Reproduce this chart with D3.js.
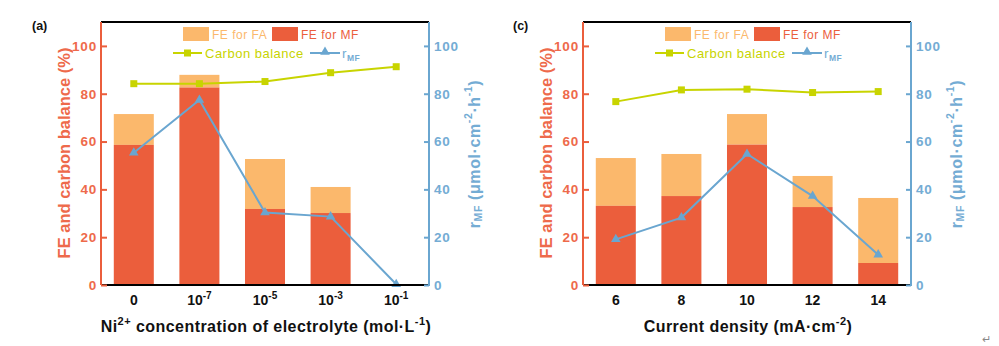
<!DOCTYPE html>
<html><head><meta charset="utf-8">
<script src="https://cdn.jsdelivr.net/npm/d3@7"></script>
<style>
body{margin:0;background:#fff;}
svg{display:block;font-family:Arial,"Liberation Sans",sans-serif;}
</style></head><body>
<div id="chart"></div>
<script>
// ---- data ----
const catsA = ["0","10|-7","10|-5","10|-3","10|-1"];
const feMF_A = [58.6, 82.6, 31.8, 30.1, 0];
const feTotal_A = [71.5, 87.9, 52.7, 41.0, 0];
const carbon_A = [84.2, 84.2, 85.1, 88.8, 91.3];
const rMF_A = [55.3, 77.4, 30.3, 28.6, 0.3];

const catsC = ["6","8","10","12","14"];
const feMF_C = [33.1, 37.2, 58.7, 32.6, 9.2];
const feTotal_C = [53.1, 54.8, 71.5, 45.6, 36.4];
const carbon_C = [76.7, 81.6, 81.9, 80.5, 80.9];
const rMF_C = [19.1, 28.2, 54.8, 37.2, 12.7];

const yTicks = [0, 20, 40, 60, 80, 100];

const C_FA = "#FBB86C", C_MF = "#EB5E3C", C_CB = "#C8D400", C_R = "#6AA6D0";
const C_LT = "#EE6A4B", C_RT = "#74ACD4";

const svg = d3.select("#chart").append("svg").attr("width", 999).attr("height", 346);

function supText(sel, str, baseSize) {
  const parts = str.split("|");
  sel.append("tspan").text(parts[0]);
  if (parts[1]) sel.append("tspan").attr("dy", -6).attr("font-size", baseSize * 0.72).text(parts[1]);
}

function panel(opts) {
  const {x0, x1, cats, mf, tot, cb, r, label, xTitle} = opts;
  const top = 22, bot = 285;
  const g = svg.append("g");
  const x = d3.scaleBand().domain(cats).range([x0, x1]).paddingInner(0.39).paddingOuter(0.195);
  const y = d3.scaleLinear().domain([0, 110]).range([bot, top]);
  const yr = d3.scaleLinear().domain([0, 110]).range([bot, top]);
  const cx = d => x(d) + x.bandwidth() / 2;

  // bars
  g.selectAll(".fa").data(cats).join("rect")
    .attr("x", d => x(d)).attr("width", x.bandwidth())
    .attr("y", (d, i) => y(tot[i])).attr("height", (d, i) => y(mf[i]) - y(tot[i]))
    .attr("fill", C_FA);
  g.selectAll(".mf").data(cats).join("rect")
    .attr("x", d => x(d)).attr("width", x.bandwidth())
    .attr("y", (d, i) => y(mf[i])).attr("height", (d, i) => bot - y(mf[i]))
    .attr("fill", C_MF);

  // carbon balance line
  const lineCB = d3.line().x((d, i) => cx(cats[i])).y(d => y(d));
  g.append("path").attr("d", lineCB(cb)).attr("fill", "none").attr("stroke", C_CB).attr("stroke-width", 2);
  g.selectAll(".cbm").data(cb).join("rect")
    .attr("x", (d, i) => cx(cats[i]) - 3.5).attr("y", d => y(d) - 3.5)
    .attr("width", 7).attr("height", 7).attr("fill", C_CB);

  // rMF line
  const lineR = d3.line().x((d, i) => cx(cats[i])).y(d => yr(d));
  g.append("path").attr("d", lineR(r)).attr("fill", "none").attr("stroke", C_R).attr("stroke-width", 2);
  const tri = d3.symbol().type(d3.symbolTriangle).size(40);
  g.selectAll(".rm").data(r).join("path")
    .attr("d", tri).attr("transform", (d, i) => `translate(${cx(cats[i])},${yr(d)})`).attr("fill", C_R);

  // frame
  g.append("line").attr("x1", x0).attr("x2", x1).attr("y1", top).attr("y2", top).attr("stroke", "#000").attr("stroke-width", 2);
  g.append("line").attr("x1", x0).attr("x2", x1).attr("y1", bot).attr("y2", bot).attr("stroke", "#000").attr("stroke-width", 2);

  // left axis
  const la = g.append("g").attr("transform", `translate(${x0},0)`)
    .call(d3.axisLeft(y).tickValues(yTicks).tickSizeInner(-6).tickSizeOuter(0).tickPadding(4));
  la.select(".domain").attr("stroke", C_MF).attr("stroke-width", 2).attr("d", `M0,${top}V${bot}`);
  la.selectAll(".tick line").attr("stroke", C_MF).attr("stroke-width", 2);
  la.selectAll(".tick text").attr("fill", C_LT).attr("font-size", 13.5).attr("font-weight", "bold")
    .attr("letter-spacing", "0.8px").attr("font-family", "Arial, 'Liberation Sans', sans-serif");

  // right axis
  const ra = g.append("g").attr("transform", `translate(${x1},0)`)
    .call(d3.axisRight(yr).tickValues(yTicks).tickSizeInner(-5).tickSizeOuter(0).tickPadding(5));
  ra.select(".domain").attr("stroke", C_R).attr("stroke-width", 2).attr("d", `M0,${top}V${bot + 1}`);
  ra.selectAll(".tick line").attr("stroke", C_R).attr("stroke-width", 2);
  ra.selectAll(".tick text").attr("fill", C_RT).attr("font-size", 13.5).attr("font-weight", "bold")
    .attr("letter-spacing", "0.8px").attr("font-family", "Arial, 'Liberation Sans', sans-serif");

  // x tick labels
  cats.forEach(c => {
    const t = g.append("text").attr("x", cx(c)).attr("y", 305).attr("text-anchor", "middle")
      .attr("font-size", 14).attr("font-weight", "bold").attr("fill", "#111");
    supText(t, c, 14);
  });

  // x title
  const xt = g.append("text").attr("x", (x0 + x1) / 2 + 1).attr("y", 332).attr("text-anchor", "middle")
    .attr("font-size", 16).attr("font-weight", "bold").attr("fill", "#111").attr("letter-spacing", "0.45px");
  xTitle(xt);

  // left title
  g.append("text").attr("transform", `translate(${x0 - 37},${153}) rotate(-90)`)
    .attr("text-anchor", "middle").attr("dominant-baseline", "central")
    .attr("font-size", 16.5).attr("font-weight", "bold").attr("fill", C_LT)
    .text("FE and carbon balance (%)");

  // right title
  const rt = g.append("text").attr("transform", `translate(${x1 + 45},${154}) rotate(-90)`)
    .attr("text-anchor", "middle").attr("dominant-baseline", "central")
    .attr("font-size", 16).attr("font-weight", "bold").attr("fill", C_RT).attr("letter-spacing", "0.6px");
  rt.append("tspan").text("r");
  rt.append("tspan").attr("font-size", 10.5).attr("dy", 4).text("MF");
  rt.append("tspan").attr("dy", -4).text(" (μmol·cm");
  rt.append("tspan").attr("font-size", 10.5).attr("dy", -6).text("-2");
  rt.append("tspan").attr("dy", 6).text("·h");
  rt.append("tspan").attr("font-size", 10.5).attr("dy", -6).text("-1");
  rt.append("tspan").attr("dy", 6).text(")");

  // panel label
  g.append("text").attr("x", label.x).attr("y", 30).attr("font-size", 12.5).attr("font-weight", "bold")
    .attr("fill", "#111").text(label.t);

  // legend
  const lx = x0 + 82;
  const lg = g.append("g").attr("font-size", 12).attr("letter-spacing", "0.5px");
  lg.append("rect").attr("x", lx).attr("y", 27).attr("width", 26).attr("height", 14).attr("fill", C_FA);
  lg.append("text").attr("x", lx + 29).attr("y", 38.5).attr("fill", C_FA).text("FE for FA");
  lg.append("rect").attr("x", lx + 89).attr("y", 27).attr("width", 26).attr("height", 14).attr("fill", C_MF);
  lg.append("text").attr("x", lx + 118).attr("y", 38.5).attr("fill", C_MF).text("FE for MF");
  lg.append("line").attr("x1", lx - 10).attr("x2", lx + 19).attr("y1", 53).attr("y2", 53).attr("stroke", C_CB).attr("stroke-width", 2);
  lg.append("rect").attr("x", lx + 1).attr("y", 49.5).attr("width", 7).attr("height", 7).attr("fill", C_CB);
  lg.append("text").attr("x", lx + 22).attr("y", 58).attr("fill", C_CB).attr("font-size", 13).attr("letter-spacing", "0.5px").text("Carbon balance");
  lg.append("line").attr("x1", lx + 127).attr("x2", lx + 157).attr("y1", 53).attr("y2", 53).attr("stroke", C_R).attr("stroke-width", 2);
  lg.append("path").attr("d", tri).attr("transform", `translate(${lx + 142},${52})`).attr("fill", C_R);
  const rl = lg.append("text").attr("x", lx + 159).attr("y", 58).attr("fill", C_RT).attr("font-size", 13.5);
  rl.append("tspan").text("r");
  rl.append("tspan").attr("font-size", 8.5).attr("dy", 3).attr("font-weight", "bold").text("MF");
}

panel({x0: 101, x1: 429, cats: catsA, mf: feMF_A, tot: feTotal_A, cb: carbon_A, r: rMF_A,
  label: {x: 32, t: "(a)"},
  xTitle: t => {
    t.append("tspan").text("Ni");
    t.append("tspan").attr("font-size", 11).attr("dy", -7).text("2+");
    t.append("tspan").attr("dy", 7).text(" concentration of electrolyte (mol·L");
    t.append("tspan").attr("font-size", 11).attr("dy", -7).text("-1");
    t.append("tspan").attr("dy", 7).text(")");
  }});

panel({x0: 583, x1: 911, cats: catsC, mf: feMF_C, tot: feTotal_C, cb: carbon_C, r: rMF_C,
  label: {x: 513, t: "(c)"},
  xTitle: t => {
    t.append("tspan").text("Current density (mA·cm");
    t.append("tspan").attr("font-size", 11).attr("dy", -7).text("-2");
    t.append("tspan").attr("dy", 7).text(")");
  }});

svg.append("text").attr("x", 982).attr("y", 343).attr("font-size", 11).attr("fill", "#888").text("↵");
</script>
</body></html>
